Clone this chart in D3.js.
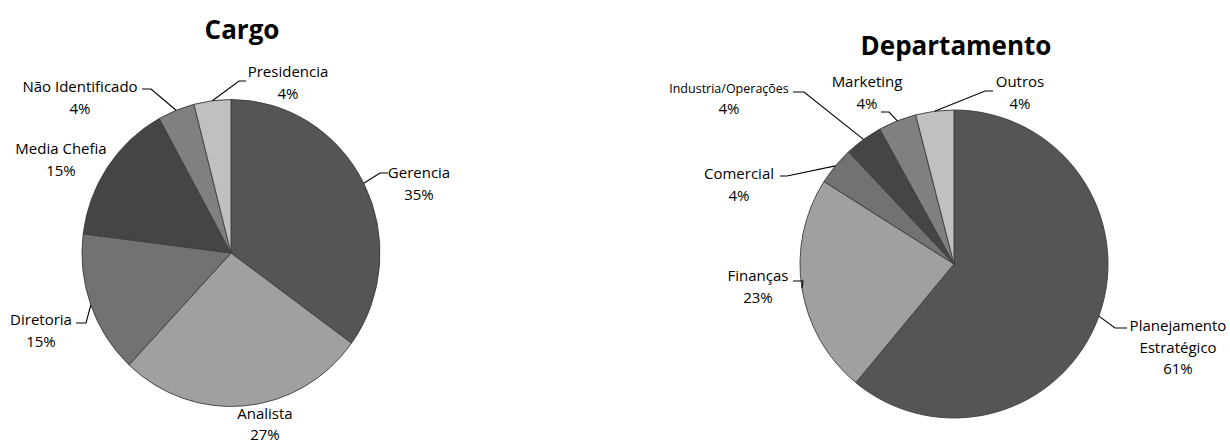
<!DOCTYPE html>
<html>
<head>
<meta charset="utf-8">
<script src="https://cdn.jsdelivr.net/npm/d3@7"></script>
<style>
  html, body { margin: 0; padding: 0; background: #ffffff; }
  svg { display: block; }
  text { font-family: "Open Sans", "Liberation Sans", sans-serif; fill: #000; }
</style>
</head>
<body>
<svg id="chart" width="1230" height="444"></svg>
<script>
// ---- data ----
const cargoCategories = ["Gerencia", "Analista", "Diretoria", "Media Chefia", "Não Identificado", "Presidencia"];
const cargoValues = [35, 27, 15, 15, 4, 4];

const deptCategories = ["Planejamento Estratégico", "Finanças", "Comercial", "Industria/Operações", "Marketing", "Outros"];
const deptValues = [61, 23, 4, 4, 4, 4];

// slice fills, in drawing order (clockwise from 12 o'clock)
const sliceColors = ["#555555", "#a0a0a0", "#727272", "#454545", "#808080", "#c0c0c0"];

// ---- label layout (text block centre, relative to pie centre; leader elbow/end) ----
const cargoLabelLayout = [
  { lines: ["Gerencia"], x: 188, y: -81, leader: { elbow: [149, -80], end: [157, -80] } },
  { lines: ["Analista"], x: 34, y: 160, lh: 20.5 },
  { lines: ["Diretoria"], x: -190, y: 66, leader: { elbow: [-145, 70], end: [-155, 70] } },
  { lines: ["Media Chefia"], x: -170, y: -105 },
  { lines: ["Não Identificado"], x: -151, y: -167, leader: { elbow: [-80, -164], end: [-89, -164] } },
  { lines: ["Presidencia"], x: 57, y: -182, leader: { elbow: [8, -172], end: [15, -172] } }
];
const deptLabelLayout = [
  { lines: ["Planejamento", "Estratégico"], x: 224, y: 61, leader: { elbow: [161, 64], end: [173, 64] } },
  { lines: ["Finanças"], x: -196, y: 11, leader: { elbow: [-151, 17], end: [-161, 17] } },
  { lines: ["Comercial"], x: -215, y: -91, leader: { elbow: [-167, -88], end: [-174, -88] } },
  { lines: ["Industria/Operações"], x: -225, y: -176, small: true, leader: { elbow: [-150, -172], end: [-161, -172] } },
  { lines: ["Marketing"], x: -87, y: -183, leader: { elbow: [-65, -152], end: [-73, -152] } },
  { lines: ["Outros"], x: 66, y: -183, leader: { elbow: [31, -173], end: [39, -173] } }
];

const svg = d3.select("#chart");

function drawPie(opts) {
  const { title, titleX, titleY, cx, cy, rx, ry, categories, values, layout } = opts;

  svg.append("text")
    .attr("x", titleX).attr("y", titleY)
    .attr("text-anchor", "middle")
    .attr("dominant-baseline", "central")
    .style("font-size", "26px")
    .style("font-weight", "bold")
    .text(title);

  const data = categories.map((c, i) => ({ category: c, value: values[i], color: sliceColors[i] }));
  const pie = d3.pie().sort(null).value(d => d.value).startAngle(0).endAngle(2 * Math.PI);
  const arcs = pie(data);
  const arc = d3.arc().innerRadius(0).outerRadius(rx);

  const g = svg.append("g").attr("transform", `translate(${cx},${cy})`);
  g.append("g")
    .attr("transform", `scale(1, ${ry / rx})`)
    .selectAll("path")
    .data(arcs)
    .join("path")
    .attr("d", arc)
    .attr("fill", d => d.data.color)
    .attr("stroke", "#3c3c3c")
    .attr("stroke-width", 0.9)
    .attr("vector-effect", "non-scaling-stroke");

  // labels: category name(s) and percentage
  arcs.forEach((a, i) => {
    const L = layout[i];
    const lh = L.lh || (L.small ? 19.5 : 21.5);
    const lines = L.lines.concat([d3.format(".0f")(a.data.value) + "%"]);
    const t = g.append("text")
      .attr("text-anchor", "middle")
      .style("font-size", "15px");
    lines.forEach((s, k) => {
      const isName = k < L.lines.length;
      t.append("tspan")
        .attr("x", L.x)
        .attr("y", L.y + k * lh)
        .attr("dominant-baseline", "central")
        .style("font-size", (L.small && isName) ? "12.5px" : null)
        .text(s);
    });

    if (L.leader) {
      const mid = (a.startAngle + a.endAngle) / 2;
      const sx = rx * Math.sin(mid);
      const sy = -ry * Math.cos(mid);
      g.append("path")
        .attr("d", d3.line()([[sx, sy], L.leader.elbow, L.leader.end]))
        .attr("fill", "none")
        .attr("stroke", "#000")
        .attr("stroke-width", 1.1);
    }
  });
}

drawPie({
  title: "Cargo", titleX: 242, titleY: 29,
  cx: 231, cy: 253, rx: 149, ry: 153.5,
  categories: cargoCategories, values: cargoValues, layout: cargoLabelLayout
});

drawPie({
  title: "Departamento", titleX: 956, titleY: 45,
  cx: 954, cy: 264, rx: 154, ry: 154,
  categories: deptCategories, values: deptValues, layout: deptLabelLayout
});
</script>
</body>
</html>
